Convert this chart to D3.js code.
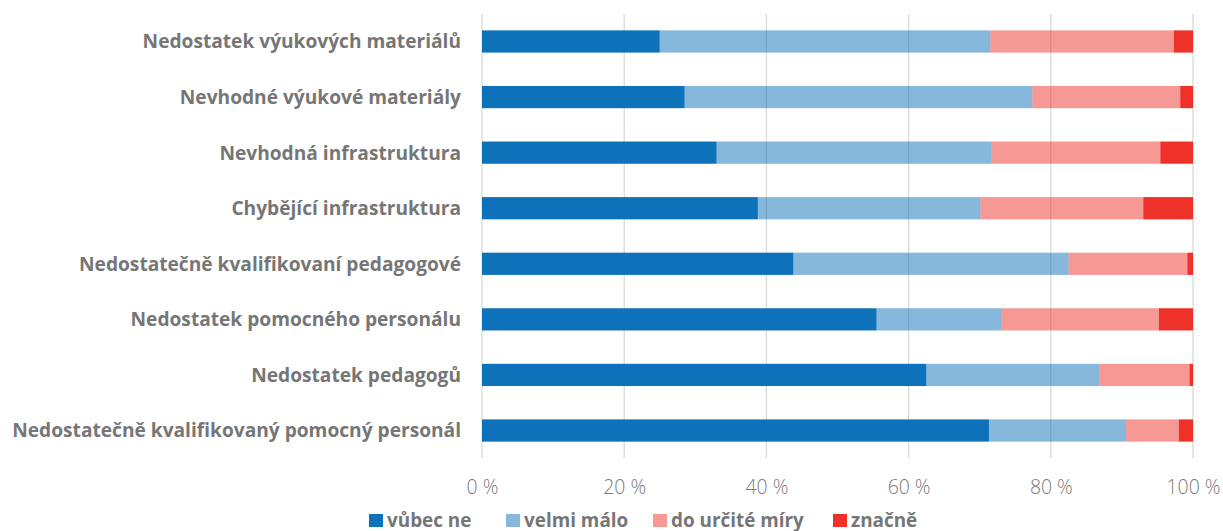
<!DOCTYPE html>
<html><head><meta charset="utf-8">
<script src="https://cdn.jsdelivr.net/npm/d3@7"></script>
<style>body{margin:0;background:#fff}svg{display:block}</style>
</head><body>
<svg id="c" width="1223" height="531"></svg>
<script>
const categories = [
  "Nedostatek výukových materiálů",
  "Nevhodné výukové materiály",
  "Nevhodná infrastruktura",
  "Chybějící infrastruktura",
  "Nedostatečně kvalifikovaní pedagogové",
  "Nedostatek pomocného personálu",
  "Nedostatek pedagogů",
  "Nedostatečně kvalifikovaný pomocný personál"
];
const seriesNames = ["vůbec ne", "velmi málo", "do určité míry", "značně"];
const vubecNe    = [25.0, 28.5, 33.0, 38.8, 43.8, 55.5, 62.5, 71.3];
const velmiMalo  = [46.5, 48.9, 38.6, 31.3, 38.7, 17.5, 24.3, 19.3];
const doUrciteMiry = [25.8, 20.8, 23.8, 22.9, 16.7, 22.2, 12.7, 7.4];
const znacne     = [2.7, 1.8, 4.6, 7.0, 0.8, 4.8, 0.5, 2.0];
const tickValues = [0, 20, 40, 60, 80, 100];

const colors = ["#0E72BA", "#0E72BA", "#EE3129", "#EE3129"];
const opac = [1, 0.5, 0.5, 1];
const FONT = "'Open Sans', Lato, sans-serif";

const svg = d3.select("#c");
const x = d3.scaleLinear().domain([0, 100]).range([482, 1193]);
const y = d3.scaleBand().domain(categories).range([13.7, 458.3]).paddingInner(0.6).paddingOuter(0.3);

const rows = categories.map((c, i) => ({cat: c, vals: [vubecNe[i], velmiMalo[i], doUrciteMiry[i], znacne[i]]}));
const stacked = d3.stack().keys([0,1,2,3]).value((d, k) => d.vals[k])(rows);

function fit(sel, refNode, target) {
  const fs = parseFloat(sel.attr("font-size"));
  const w = refNode.getComputedTextLength();
  sel.attr("font-size", fs * target / w);
}

// gridlines
svg.append("g").selectAll("line").data(tickValues).join("line")
  .attr("x1", d => x(d)).attr("x2", d => x(d))
  .attr("y1", 14).attr("y2", 458)
  .attr("stroke", "#d9d9d9").attr("stroke-width", 1.3);

// bars
svg.append("g").selectAll("g").data(stacked).join("g")
  .attr("fill", (d, i) => colors[i]).attr("fill-opacity", (d, i) => opac[i])
  .selectAll("rect").data(d => d).join("rect")
  .attr("x", d => x(d[0]))
  .attr("width", d => x(d[1]) - x(d[0]))
  .attr("y", d => y(d.data.cat))
  .attr("height", y.bandwidth());

// y labels
const yl = svg.append("g").attr("font-family", FONT).attr("font-weight", "bold")
  .attr("font-size", 18).attr("fill", "#767676");
yl.selectAll("text").data(categories).join("text")
  .attr("x", 461).attr("y", d => y(d) + y.bandwidth() / 2)
  .attr("dy", "0.36em").attr("text-anchor", "end")
  .text(d => d);
fit(yl, yl.selectAll("text").nodes()[7], 449);

// x axis tick labels
const xAxis = d3.axisBottom(x).tickValues(tickValues).tickSize(0).tickPadding(0)
  .tickFormat(d => d + " %");
const ax = svg.append("g").attr("transform", "translate(0,480)").call(xAxis);
ax.select(".domain").remove();
ax.attr("font-family", FONT).attr("font-size", 18);
ax.selectAll("text").attr("font-family", null).attr("font-size", null)
  .attr("fill", "#7a7a7a").attr("font-weight", 300);
fit(ax, ax.selectAll("text").nodes()[5], 54);

// legend
const legX = [369, 506, 653, 833];
const leg = svg.append("g").attr("font-family", FONT).attr("font-weight", "bold")
  .attr("font-size", 18).attr("fill", "#767676");
const lg = leg.selectAll("g").data(seriesNames).join("g")
  .attr("transform", (d, i) => `translate(${legX[i]},514)`);
lg.append("rect").attr("width", 14).attr("height", 13)
  .attr("fill", (d, i) => colors[i]).attr("fill-opacity", (d, i) => opac[i]);
lg.append("text").attr("x", 18).attr("y", 6.5).attr("dy", "0.36em").text(d => d);
fit(leg, leg.selectAll("text").nodes()[2], 133);
</script>
</body></html>
